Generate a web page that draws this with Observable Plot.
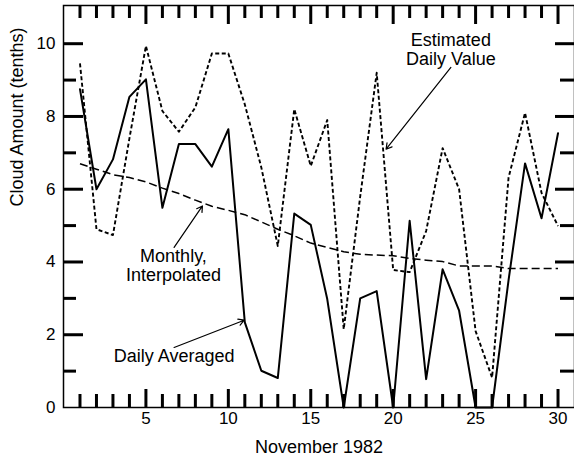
<!DOCTYPE html>
<html>
<head>
<meta charset="utf-8">
<script src="https://cdn.jsdelivr.net/npm/d3@7"></script>
<script src="https://cdn.jsdelivr.net/npm/@observablehq/plot@0.6"></script>
<style>
  html, body { margin: 0; padding: 0; background: #fff; }
</style>
</head>
<body>
<div id="chart"></div>
<script>
// ---- data ----
const days = [1,2,3,4,5,6,7,8,9,10,11,12,13,14,15,16,17,18,19,20,21,22,23,24,25,26,27,28,29,30];
const dailyAveraged = [8.75, 6.0, 6.82, 8.54, 9.02, 5.49, 7.24, 7.24, 6.62, 7.65,
                       2.34, 1.01, 0.81, 5.33, 5.02, 2.98, 0.0, 3.0, 3.2, 0.0,
                       5.13, 0.78, 3.8, 2.66, 0.0, 0.0, 3.5, 6.71, 5.2, 7.54];
const estimatedDaily = [9.46, 4.9, 4.74, 7.4, 9.94, 8.15, 7.58, 8.25, 9.73, 9.73,
                        8.33, 6.6, 4.44, 8.2, 6.64, 7.9, 2.15, 5.8, 9.2, 3.78,
                        3.72, 4.85, 7.13, 6.0, 2.1, 0.82, 6.32, 8.1, 5.9, 4.99];
const monthlyInterp = [6.7, 6.55, 6.4, 6.32, 6.2, 6.03, 5.88, 5.7, 5.53, 5.42,
                       5.3, 5.1, 4.9, 4.72, 4.52, 4.4, 4.28, 4.21, 4.19, 4.17,
                       4.1, 4.05, 4.01, 3.89, 3.89, 3.89, 3.82, 3.82, 3.82, 3.82];
const xTickLabels = [5, 10, 15, 20, 25, 30];
const yTickLabels = [0, 2, 4, 6, 8, 10];
const yTickValues = [1,2,3,4,5,6,7,8,9,10];
const xTitle = "November 1982";
const yTitle = "Cloud Amount (tenths)";
const annotationTexts = ["Estimated\nDaily Value", "Monthly,\nInterpolated", "Daily Averaged"];
const annotationAt = [[23.5, 9.85], [6.67, 3.9], [6.71, 1.42]];
const arrowFrom = [[23.5, 9.35], [6.71, 4.4], [6.71, 1.65]];
const arrowTo = [[19.57, 7.1], [8.43, 5.54], [10.96, 2.4]];

// ---- tables ----
const series = (vals) => days.map((d, i) => ({day: d, value: vals[i]}));
const annotations = annotationTexts.map((t, i) => ({text: t, x: annotationAt[i][0], y: annotationAt[i][1]}));
const arrows = arrowFrom.map((f, i) => ({x1: f[0], y1: f[1], x2: arrowTo[i][0], y2: arrowTo[i][1]}));

const W = 574, H = 465;
const mL = 63, mR = 0, mT = 5, mB = 58;
const innerW = W - mL - mR, innerH = H - mT - mB;
const font = "'Liberation Sans', Arial, Helvetica, sans-serif";

const majorX = days.filter(d => d % 5 === 0);
const minorX = days.filter(d => d % 5 !== 0);
const majorY = yTickValues.filter(v => v % 2 === 0);
const minorY = yTickValues.filter(v => v % 2 !== 0);

const chart = Plot.plot({
  width: W, height: H,
  marginLeft: mL, marginRight: mR, marginTop: mT, marginBottom: mB,
  style: {fontFamily: font, background: "#fff", color: "#000"},
  x: {domain: [0, 31], axis: null},
  y: {domain: [0, 11.05], axis: null},
  marks: [
    // inward ticks
    Plot.ruleX(minorX, {x: d => d, insetTop: innerH - 13, strokeWidth: 3}),
    Plot.ruleX(majorX, {x: d => d, insetTop: innerH - 18, strokeWidth: 3}),
    Plot.ruleX(minorX, {x: d => d, insetBottom: innerH - 13, strokeWidth: 3}),
    Plot.ruleX(majorX, {x: d => d, insetBottom: innerH - 19, strokeWidth: 3}),
    Plot.ruleY(minorY, {y: d => d, insetRight: innerW - 13, strokeWidth: 3}),
    Plot.ruleY(majorY, {y: d => d, insetRight: innerW - 20, strokeWidth: 3}),
    Plot.ruleY(minorY, {y: d => d, insetLeft: innerW - 14, strokeWidth: 3}),
    Plot.ruleY(majorY, {y: d => d, insetLeft: innerW - 19, strokeWidth: 3}),
    Plot.frame({stroke: "#000", strokeWidth: 1.5}),
    // tick labels
    Plot.text(xTickLabels, {x: d => d, frameAnchor: "bottom", dy: 16, fontSize: 17, fill: "#000"}),
    Plot.text(yTickLabels, {y: d => d, frameAnchor: "left", dx: -8, textAnchor: "end", fontSize: 17, fill: "#000"}),
    // axis titles
    Plot.text([xTitle], {frameAnchor: "bottom", dy: 45, fontSize: 18, fill: "#000"}),
    Plot.text([yTitle], {frameAnchor: "left", dx: -46, rotate: -90, fontSize: 18, fill: "#000"}),
    // series
    Plot.line(series(monthlyInterp), {x: "day", y: "value", stroke: "#000", strokeWidth: 1.5, strokeDasharray: "8,4", strokeLinecap: "butt"}),
    Plot.line(series(estimatedDaily), {x: "day", y: "value", stroke: "#000", strokeWidth: 1.9, strokeDasharray: "4,2.5", strokeLinecap: "butt"}),
    Plot.line(series(dailyAveraged), {x: "day", y: "value", stroke: "#000", strokeWidth: 2}),
    // annotations
    Plot.arrow(arrows, {x1: "x1", y1: "y1", x2: "x2", y2: "y2", stroke: "#000", strokeWidth: 1.2, headLength: 8}),
    Plot.text(annotations, {x: "x", y: "y", text: "text", fontSize: 18, lineHeight: 1.06, fill: "#000"})
  ]
});
document.getElementById("chart").appendChild(chart);
</script>
</body>
</html>
